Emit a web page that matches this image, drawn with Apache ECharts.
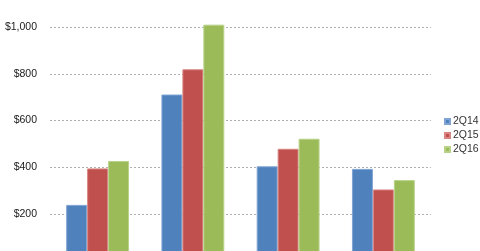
<!DOCTYPE html>
<html><head><meta charset="utf-8">
<script src="https://cdn.jsdelivr.net/npm/echarts@6/dist/echarts.min.js"></script>
<style>html,body{margin:0;padding:0;overflow:hidden;width:480px;height:251px;background:#fff}
#c{position:absolute;left:0;top:-30px;width:480px;height:300px}</style>
</head><body><div id="c"></div>
<script>
var categories = ['A', 'B', 'C', 'D'];
var s2Q14 = [239, 711, 404, 393];
var s2Q15 = [395, 819, 479, 305];
var s2Q16 = [427, 1010, 522, 345];
var seriesNames = ['2Q14', '2Q15', '2Q16'];
var colors = ['#4F81BD', '#C0504D', '#9BBB59'];
var borders = ['#7FA3D3', '#D88583', '#B9D28A'];
var chart = echarts.init(document.getElementById('c'));
var data = [s2Q14, s2Q15, s2Q16];
chart.setOption({
  animation: false,
  grid: {left: 50, right: 49, top: 10.25, bottom: 9.25},
  legend: {
    orient: 'vertical', left: 444, top: 146, padding: 0, itemWidth: 5, itemHeight: 5, itemGap: 3,
    icon: 'rect', textStyle: {fontSize: 10.5, color: '#333', fontFamily: 'Liberation Sans', padding: [0,0,0,-2]},
    data: seriesNames
  },
  xAxis: {type: 'category', data: categories, axisLine: {show: false}, axisTick: {show: false}, axisLabel: {show: false}},
  yAxis: {
    type: 'value', min: 0, max: 1200, interval: 200,
    axisLabel: {margin: 13, fontSize: 10.5, color: '#1a1a1a', fontFamily: 'Liberation Sans',
      formatter: function (v) { return '$' + v.toLocaleString('en-US'); }},
    splitLine: {lineStyle: {type: [2, 2], color: '#b0b0b0'}}
  },
  series: data.map(function (d, i) {
    return {
      name: seriesNames[i], type: 'bar', data: d, barGap: '0%', barCategoryGap: '34%',
      itemStyle: {color: colors[i], borderColor: borders[i], borderWidth: 1}
    };
  })
});
</script></body></html>
